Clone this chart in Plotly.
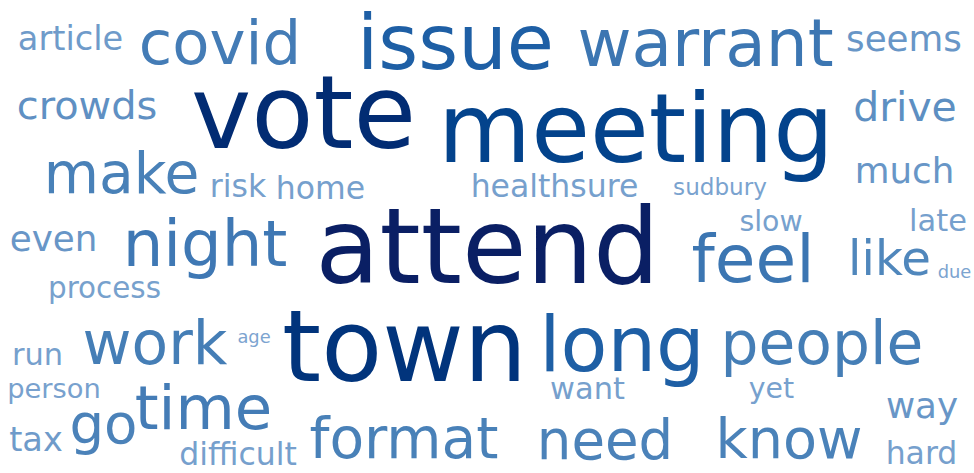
import numpy as np
import plotly.graph_objects as go

# ---- data: words and their relative frequency (attend = 1.0) ----
words = ["attend", "vote", "town", "meeting", "issue", "long", "warrant", "feel",
         "night", "covid", "time", "work", "people", "make", "format", "know",
         "need", "go", "like", "drive", "crowds", "seems", "much", "way", "even",
         "article", "tax", "risk", "difficult", "home", "healthsure", "hard",
         "late", "run", "want", "process", "slow", "yet", "person", "sudbury",
         "age", "due"]
weights = [1.00, 0.97, 0.95, 0.91, 0.73, 0.73, 0.63, 0.63,
           0.61, 0.58, 0.58, 0.57, 0.57, 0.54, 0.54, 0.53,
           0.52, 0.52, 0.46, 0.39, 0.38, 0.34, 0.34, 0.34, 0.34,
           0.32, 0.32, 0.30, 0.30, 0.30, 0.30, 0.30,
           0.29, 0.29, 0.29, 0.28, 0.27, 0.27, 0.26, 0.22,
           0.17, 0.17]

# ---- word-cloud placement (canvas units: word centre x, text baseline y) ----
place_x = [487.5, 303.5, 404.5, 636, 455.5, 622, 705.5, 753,
           205, 220, 203.5, 155, 822, 121.5, 404, 789,
           605, 103.5, 889.5, 905, 87, 904, 904.5, 922, 53.5,
           70.5, 36, 238, 238, 320.5, 554.5, 921.5,
           938, 37.5, 587.5, 104.5, 771, 771.5, 54, 720,
           254, 954.5]
place_base = [283, 148, 381, 162, 69, 371, 66, 282,
              266, 64, 429, 364, 364, 193, 458, 458,
              459, 443, 275, 121, 119, 51, 183, 418, 251,
              50, 451, 197, 465, 199, 197, 464,
              231, 365, 399, 298, 231, 398, 398, 195,
              343, 278]

W, H = 974, 473
MAX_FONT = 105

w = np.array(weights)
sizes = MAX_FONT * w

# colour scale (light blue -> navy) sampled by weight
stops = [0.15, 0.30, 0.35, 0.46, 0.55, 0.63, 0.73, 0.91, 0.96, 1.00]
rgb = np.array([(125, 165, 208), (118, 160, 205), (100, 148, 198), (80, 135, 188),
                (72, 128, 184), (60, 118, 178), (30, 95, 165), (3, 67, 140),
                (0, 48, 120), (10, 31, 100)], dtype=float)
colors = []
for v in w:
    c = [int(round(np.interp(v, stops, rgb[:, k]))) for k in range(3)]
    colors.append(f"rgb({c[0]},{c[1]},{c[2]})")

# plotly "middle center" text puts the baseline 0.25*fontsize below the point
ys = np.array(place_base) - 0.25 * sizes

fig = go.Figure(go.Scatter(
    x=place_x, y=ys, text=words, mode="text",
    textposition="middle center",
    textfont=dict(family="DejaVu Sans", size=sizes.tolist(), color=colors),
    hoverinfo="text", cliponaxis=False,
))
fig.update_layout(
    width=W, height=H, margin=dict(l=0, r=0, t=0, b=0),
    paper_bgcolor="white", plot_bgcolor="white", showlegend=False,
    xaxis=dict(range=[0, W], visible=False, fixedrange=True),
    yaxis=dict(range=[H, 0], visible=False, fixedrange=True),
)
fig.write_html("out.html", config={"displayModeBar": False},
               post_script="document.body.style.margin='0';document.body.style.overflow='hidden';")
